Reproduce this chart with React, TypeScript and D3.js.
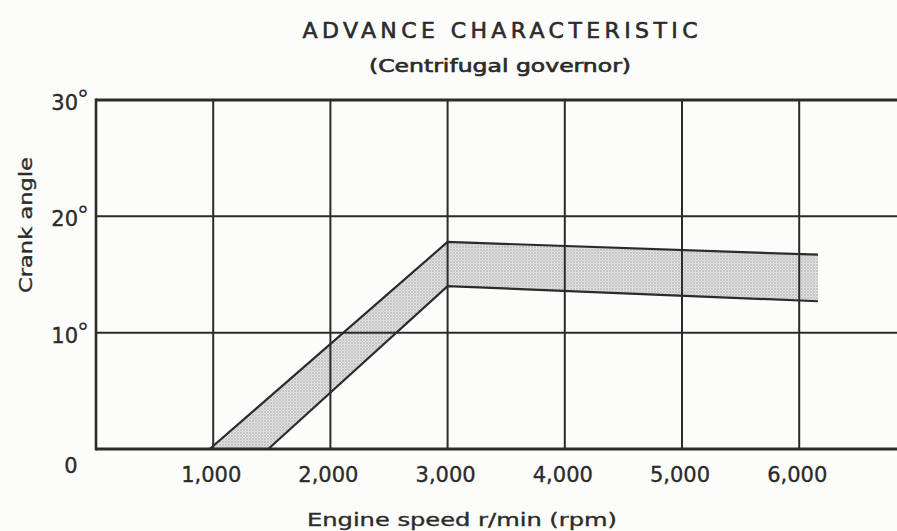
import React from "react";
import * as d3 from "d3";

const W = 897;
const H = 531;

const xTicks = [1000, 2000, 3000, 4000, 5000, 6000];
const yGrid = [10, 20];
const yTickLabels = [10, 20, 30];

// band of advance (rpm, degrees)
const upperRpm = [970, 3000, 6160];
const upperDeg = [0, 17.8, 16.7];
const lowerRpm = [1470, 3000, 6160];
const lowerDeg = [0, 14.0, 12.7];

const title = "ADVANCE CHARACTERISTIC";
const subtitle = "(Centrifugal governor)";
const xTitle = "Engine speed r/min (rpm)";
const yTitle = "Crank angle";

const ink = "#2b2b2b";
const font = "'DejaVu Sans', 'Liberation Sans', sans-serif";

export default function App() {
  const x = d3.scaleLinear().domain([0, 7000]).range([96, 96 + 7000 * 0.1172]);
  const y = d3.scaleLinear().domain([0, 30]).range([449, 100]);

  const upper = upperRpm.map((r, i) => [r, upperDeg[i]] as [number, number]);
  const lower = lowerRpm.map((r, i) => [r, lowerDeg[i]] as [number, number]);

  const line = d3
    .line<[number, number]>()
    .x((d) => x(d[0]))
    .y((d) => y(d[1]));

  const poly = [...upper, ...lower.slice().reverse()];
  const polyPath = line(poly) + "Z";

  const x0 = x(0);
  const xEnd = W + 5;
  const fmt = d3.format(",");

  const textStroke = { stroke: ink, strokeWidth: 0.35 };

  return (
    <svg
      width={W}
      height={H}
      style={{ position: "fixed", left: 0, top: 0, background: "#fcfcfa" }}
    >
      <defs>
        <pattern id="stip" width="3" height="3" patternUnits="userSpaceOnUse">
          <rect width="3" height="3" fill="#e0e0e0" />
          <circle cx="1" cy="1" r="0.7" fill="#999" />
          <circle cx="2.5" cy="2.5" r="0.45" fill="#b5b5b5" />
        </pattern>
      </defs>

      {/* band fill */}
      <path d={polyPath} fill="url(#stip)" stroke="none" />

      {/* vertical gridlines */}
      {xTicks.map((t) => (
        <line
          key={"vx" + t}
          x1={x(t)}
          x2={x(t)}
          y1={y(30)}
          y2={y(0)}
          stroke={ink}
          strokeWidth={2}
        />
      ))}
      {/* horizontal gridlines */}
      {yGrid.map((t) => (
        <line
          key={"hy" + t}
          x1={x0}
          x2={xEnd}
          y1={y(t)}
          y2={y(t)}
          stroke={ink}
          strokeWidth={2}
        />
      ))}
      {/* frame */}
      <line x1={x0} x2={xEnd} y1={y(30)} y2={y(30)} stroke={ink} strokeWidth={3} />
      <line x1={x0} x2={xEnd} y1={y(0)} y2={y(0)} stroke={ink} strokeWidth={3} />
      <line x1={x0} x2={x0} y1={y(30) - 1.5} y2={y(0) + 1.5} stroke={ink} strokeWidth={2.6} />

      {/* band outlines */}
      <path d={line(upper) || ""} fill="none" stroke={ink} strokeWidth={2.2} />
      <path d={line(lower) || ""} fill="none" stroke={ink} strokeWidth={2.2} />

      {/* titles */}
      <text
        x={500}
        y={38}
        textAnchor="middle"
        fontFamily={font}
        fontSize={22}
        fill={ink}
        stroke={ink}
        strokeWidth={0.6}
        textLength={395}
        lengthAdjust="spacing"
      >
        {title}
      </text>
      <text
        x={500}
        y={72}
        textAnchor="middle"
        fontFamily={font}
        fontSize={17}
        fill={ink}
        stroke={ink}
        strokeWidth={0.6}
        textLength={262}
        lengthAdjust="spacingAndGlyphs"
      >
        {subtitle}
      </text>

      {/* x tick labels */}
      {xTicks.map((t) => (
        <text
          key={"xl" + t}
          x={x(t) - 2}
          y={482}
          textAnchor="middle"
          fontFamily={font}
          fontSize={21}
          fill={ink}
          {...textStroke}
        >
          {fmt(t)}
        </text>
      ))}

      {/* y tick labels */}
      {yTickLabels.map((t) => (
        <g key={"yl" + t}>
          <text
            x={78}
            y={y(t) + 10}
            textAnchor="end"
            fontFamily={font}
            fontSize={21}
            fill={ink}
            {...textStroke}
          >
            {String(t)}
          </text>
          <text
            x={77}
            y={y(t) + 8}
            textAnchor="start"
            fontFamily={font}
            fontSize={24}
            fill={ink}
          >
            °
          </text>
        </g>
      ))}
      <text
        x={71}
        y={473}
        textAnchor="middle"
        fontFamily={font}
        fontSize={21}
        fill={ink}
        {...textStroke}
      >
        0
      </text>

      {/* axis titles */}
      <text
        x={462}
        y={526}
        textAnchor="middle"
        fontFamily={font}
        fontSize={17}
        fill={ink}
        textLength={310}
        lengthAdjust="spacingAndGlyphs"
        {...textStroke}
      >
        {xTitle}
      </text>
      <text
        transform={`translate(32,225) rotate(-90)`}
        textAnchor="middle"
        fontFamily={font}
        fontSize={17}
        fill={ink}
        textLength={136}
        lengthAdjust="spacingAndGlyphs"
        {...textStroke}
      >
        {yTitle}
      </text>
    </svg>
  );
}
